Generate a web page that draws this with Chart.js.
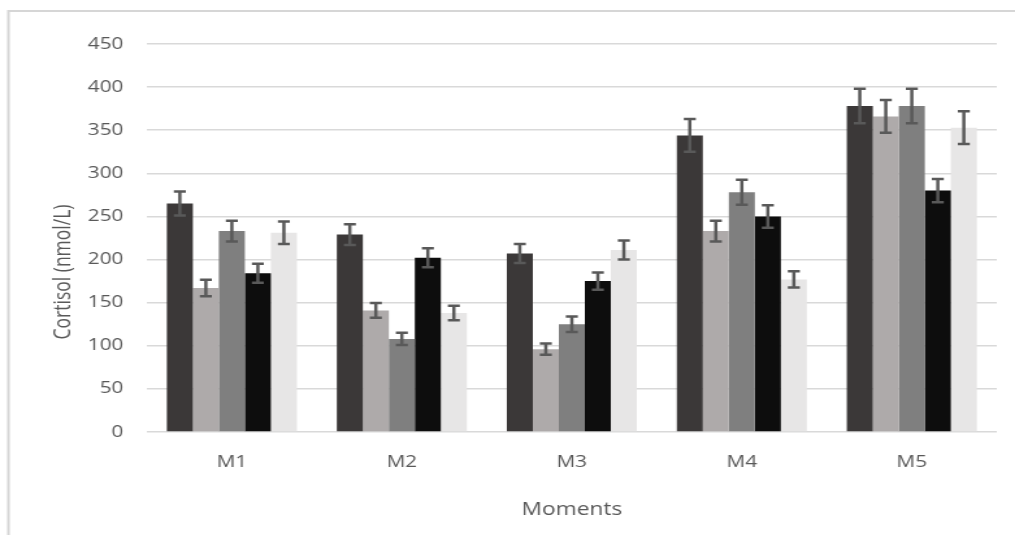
<!DOCTYPE html>
<html>
<head>
<meta charset="utf-8">
<title>Cortisol by moment</title>
<script src="https://cdn.jsdelivr.net/npm/chart.js@4.4.1/dist/chart.umd.min.js"></script>
<style>
  html, body { margin: 0; padding: 0; background: #ffffff; }
</style>
</head>
<body>
<!-- the drawing surface is widened horizontally to give the wide, soft lettering -->
<canvas id="chart" width="781" height="535" style="display:block;width:1015px;height:535px;"></canvas>
<script>
// Categories on the x axis
const moments = ['M1', 'M2', 'M3', 'M4', 'M5'];

// Mean cortisol (nmol/L) per group
const group1 = [265, 229, 207, 344, 378];
const group2 = [167, 141, 96, 233, 366];
const group3 = [233, 108, 125, 278, 378];
const group4 = [184, 202, 175, 250, 280];
const group5 = [231, 138, 211, 177, 353];

// Standard errors per group
const group1Err = [14, 12, 11, 19, 20];
const group2Err = [9.5, 8.5, 6.5, 12, 19];
const group3Err = [12, 7, 9, 14.5, 20];
const group4Err = [11, 11, 10, 13, 13.5];
const group5Err = [13, 8.5, 11, 9.5, 19];

// Axis text
const yAxisTitle = 'Cortisol (nmol/L)';
const xAxisTitle = 'Moments';

const fillColors = ['#3b3838', '#aeaaaa', '#7f7f7f', '#0d0d0d', '#e7e6e6'];
const textColor = '#595959';
const gridColor = '#d9d9d9';
const fontFamily = '"Open Sans", "Noto Sans", sans-serif';

const series = [
  { label: 'Group 1', data: group1, err: group1Err },
  { label: 'Group 2', data: group2, err: group2Err },
  { label: 'Group 3', data: group3, err: group3Err },
  { label: 'Group 4', data: group4, err: group4Err },
  { label: 'Group 5', data: group5, err: group5Err }
];

// White background plus the light frame along the top and left edges
const framePlugin = {
  id: 'frame',
  beforeDraw(chart) {
    const ctx = chart.ctx;
    ctx.save();
    ctx.fillStyle = '#ffffff';
    ctx.fillRect(0, 0, chart.width, chart.height);
    ctx.strokeStyle = '#d6d6d6';
    ctx.lineWidth = 2;
    ctx.beginPath();
    ctx.moveTo(6.5, chart.height + 5);
    ctx.lineTo(6.5, 11);
    ctx.lineTo(chart.width + 5, 11);
    ctx.stroke();
    ctx.restore();
  }
};

// Error bars with caps drawn on top of each bar
const errorBarPlugin = {
  id: 'errorBars',
  afterDatasetsDraw(chart) {
    const ctx = chart.ctx;
    const yScale = chart.scales.y;
    ctx.save();
    ctx.strokeStyle = '#595959';
    ctx.lineWidth = 2.5;
    ctx.lineCap = 'butt';
    chart.data.datasets.forEach((ds, di) => {
      const meta = chart.getDatasetMeta(di);
      meta.data.forEach((bar, i) => {
        const v = ds.data[i];
        const e = ds.errors[i];
        const x = bar.x;
        const yTop = yScale.getPixelForValue(v + e);
        const yBot = yScale.getPixelForValue(v - e);
        const half = 4.6;
        ctx.beginPath();
        ctx.moveTo(x, yTop);
        ctx.lineTo(x, yBot);
        ctx.moveTo(x - half, yTop);
        ctx.lineTo(x + half, yTop);
        ctx.moveTo(x - half, yBot);
        ctx.lineTo(x + half, yBot);
        ctx.stroke();
      });
    });
    ctx.restore();
  }
};

// Rotated y axis title
const yTitlePlugin = {
  id: 'yTitle',
  afterDraw(chart) {
    const ctx = chart.ctx;
    ctx.save();
    ctx.translate(49, 272);
    ctx.rotate(-Math.PI / 2);
    ctx.fillStyle = textColor;
    ctx.font = '17.5px ' + fontFamily;
    ctx.textAlign = 'center';
    ctx.textBaseline = 'middle';
    ctx.fillText(yAxisTitle, 0, 0);
    ctx.restore();
  }
};

new Chart(document.getElementById('chart'), {
  type: 'bar',
  data: {
    labels: moments,
    datasets: series.map((s, i) => ({
      label: s.label,
      data: s.data,
      errors: s.err,
      backgroundColor: fillColors[i],
      borderWidth: 0,
      categoryPercentage: 0.765,
      barPercentage: 1.0
    }))
  },
  options: {
    responsive: false,
    devicePixelRatio: 1,
    animation: false,
    layout: { padding: { top: 44, right: 14, left: 0, bottom: 0 } },
    plugins: {
      legend: { display: false },
      tooltip: { enabled: false }
    },
    scales: {
      x: {
        grid: { display: false },
        border: { display: false },
        ticks: {
          color: textColor,
          font: { family: fontFamily, size: 16 },
          padding: 13
        },
        title: {
          display: true,
          text: xAxisTitle,
          color: textColor,
          font: { family: fontFamily, size: 17.5 },
          padding: { top: 0, bottom: 14 }
        },
        afterFit(scale) { scale.height = 103; }
      },
      y: {
        min: 0,
        max: 450,
        grid: { color: gridColor, lineWidth: 1.6, drawTicks: false },
        border: { display: false },
        ticks: {
          stepSize: 50,
          color: textColor,
          font: { family: fontFamily, size: 16 },
          padding: 18
        },
        afterFit(scale) { scale.width = 113; }
      }
    }
  },
  plugins: [framePlugin, errorBarPlugin, yTitlePlugin]
});
</script>
</body>
</html>
